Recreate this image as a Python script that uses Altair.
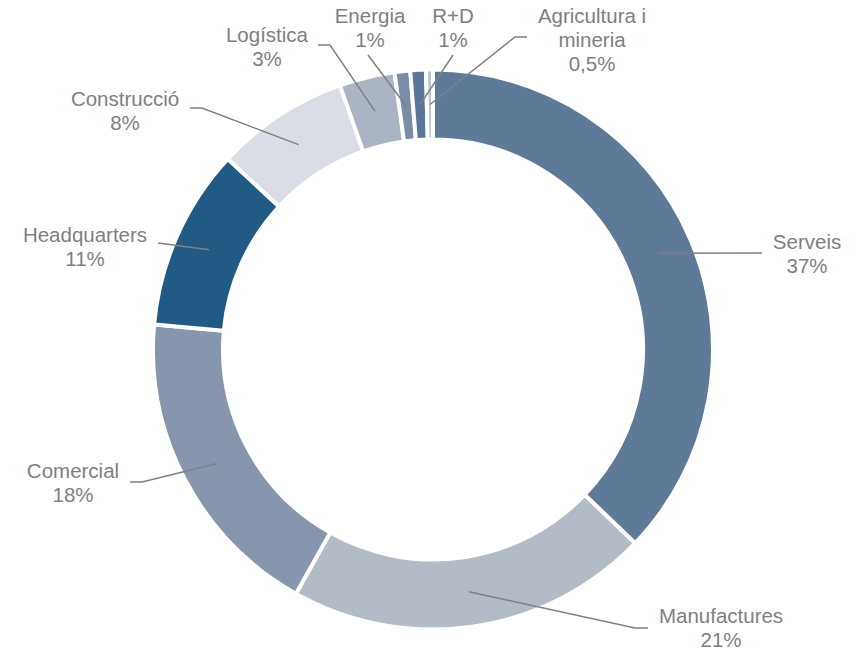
import math
import altair as alt
import pandas as pd

# ---- data ----
categories = ["Serveis", "Manufactures", "Comercial", "Headquarters", "Construcció",
              "Logística", "Energia", "R+D", "Agricultura i mineria"]
values = [37.2, 21.0, 18.3, 10.5, 7.7, 3.2, 0.9, 0.9, 0.4]
label_names = ["Serveis", "Manufactures", "Comercial", "Headquarters", "Construcció",
               "Logística", "Energia", "R+D", "Agricultura i\nmineria"]
pct_labels = ["37%", "21%", "18%", "11%", "8%", "3%", "1%", "1%", "0,5%"]
colors = ["#5e7a99", "#b3bbc7", "#8796ac", "#215a85", "#dadde5",
          "#aab4c2", "#7a8da8", "#5a7699", "#b8c3d2"]

# ---- layout (page pixel coordinates) ----
OFF = 8
CENTER = (433, 349.5)
R_INNER, R_OUTER = 210, 280
R_LEAD = 245
label_pos = [(807, 249), (721, 623), (73, 478), (85, 242), (125, 106),
             (267, 42), (370, 23), (453, 23), (592, 23)]
leader_tail = [
    [(762, 253)],
    [(635, 628), (648, 628)],
    [(142, 482), (130, 482)],
    [(158, 243)],
    [(202, 108), (190, 108)],
    [(330, 45), (318, 45)],
    [(368, 55)],
    [(453, 55)],
    [(515, 37), (527, 37)],
]

cx, cy = CENTER[0] - OFF, CENTER[1] - OFF
total = sum(values)

arc_df = pd.DataFrame({"category": categories, "value": values,
                       "order": list(range(len(categories)))})

line_rows = []
cum = 0.0
for i, (cat, v) in enumerate(zip(categories, values)):
    mid = (cum + v / 2) / total * 2 * math.pi
    cum += v
    sx = cx + R_LEAD * math.sin(mid)
    sy = cy - R_LEAD * math.cos(mid)
    line_rows.append({"category": cat, "pt": 0, "px": sx, "py": sy})
    for j, (tx, ty) in enumerate(leader_tail[i]):
        line_rows.append({"category": cat, "pt": j + 1, "px": tx - OFF, "py": ty - OFF})
line_df = pd.DataFrame(line_rows)

text_df = pd.DataFrame({
    "category": categories,
    "label": [f"{n}\n{p}" for n, p in zip(label_names, pct_labels)],
    "lx": [p[0] - OFF for p in label_pos],
    "ly": [p[1] - OFF for p in label_pos],
})

arcs = alt.Chart(arc_df).mark_arc(
    innerRadius=R_INNER, outerRadius=R_OUTER, stroke="white", strokeWidth=4
).encode(
    theta=alt.Theta("value:Q", stack=True),
    color=alt.Color("category:N", scale=alt.Scale(domain=categories, range=colors), legend=None),
    order=alt.Order("order:Q"),
    x=alt.value(cx),
    y=alt.value(cy),
)

lines = alt.Chart(line_df).mark_line(color="#808080", strokeWidth=1.5).encode(
    x=alt.X("px:Q", scale=None, axis=None),
    y=alt.Y("py:Q", scale=None, axis=None),
    detail="category:N",
    order="pt:Q",
)

texts = alt.Chart(text_df).mark_text(
    font="Liberation Sans", fontSize=20.5, color="#7f7f7f", align="center",
    baseline="alphabetic", lineBreak="\n", lineHeight=24,
).encode(
    x=alt.X("lx:Q", scale=None, axis=None),
    y=alt.Y("ly:Q", scale=None, axis=None),
    text="label:N",
)

chart = alt.layer(arcs, lines, texts).properties(
    width=846, height=642, padding=0, autosize="none"
).configure_view(stroke=None)

chart.save("out.html", embed_options={"renderer": "svg", "actions": False})
